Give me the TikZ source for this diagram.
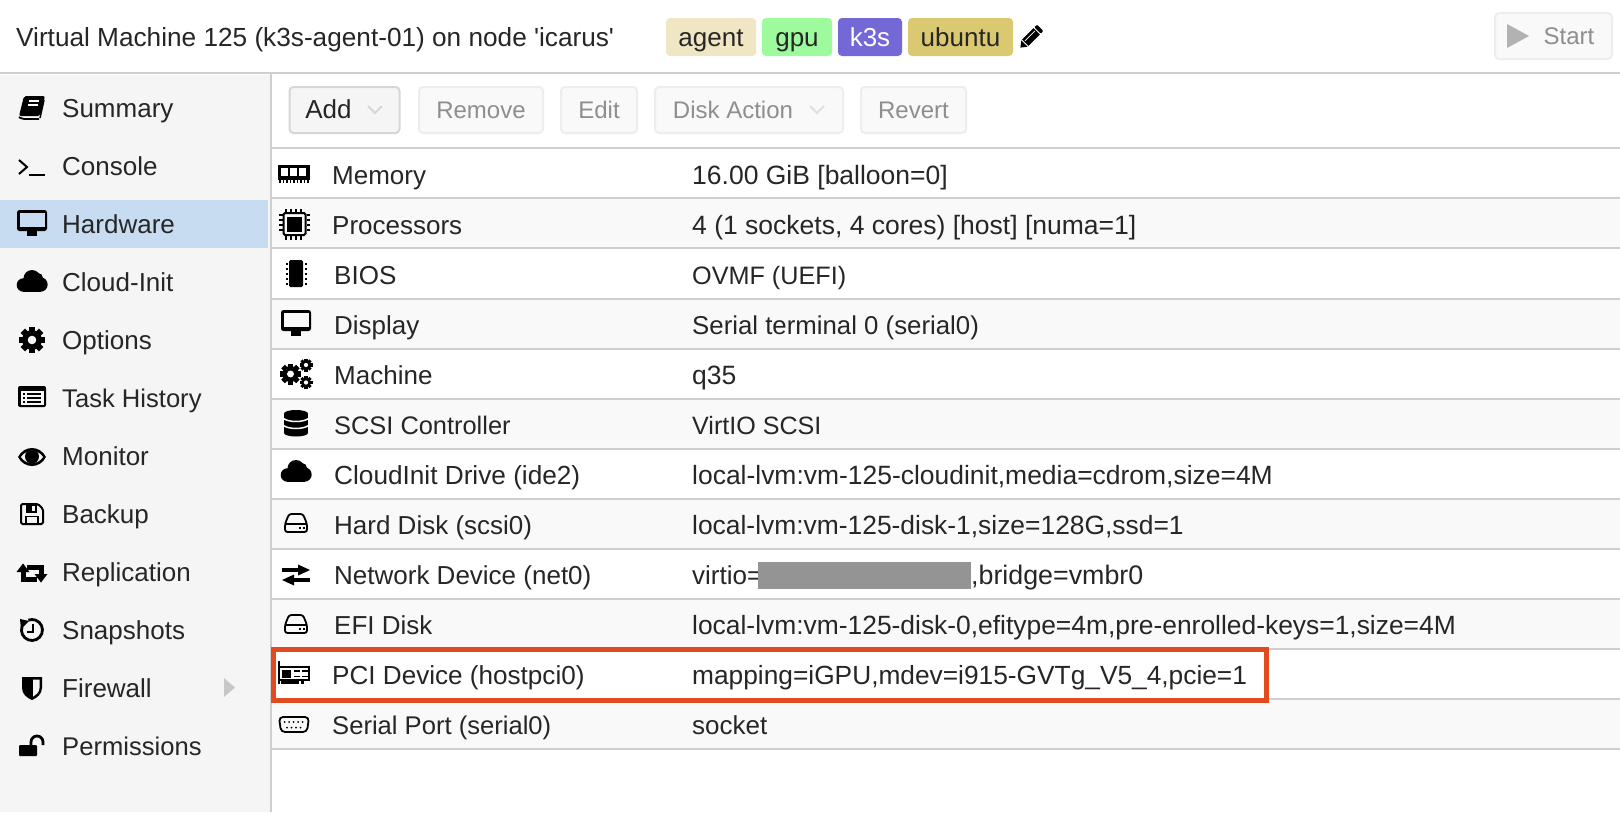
\documentclass[tikz,border=0pt]{standalone}
\usepackage{fontspec}
\newfontfamily\uif{Liberation Sans}
\definecolor{ink}{HTML}{262626}
\definecolor{off}{HTML}{8E8E8E}
\definecolor{rule}{HTML}{CFCFCF}
\definecolor{btnrule}{HTML}{D6D6D6}
\definecolor{sidebg}{HTML}{F5F5F5}
\definecolor{rowalt}{HTML}{F9F9F9}
\definecolor{sel}{HTML}{C7DBF1}
\definecolor{hl}{HTML}{E24A20}
\tikzset{
  ui/.style={font=\uif\fontsize{26}{30}\selectfont,text=ink,inner sep=0pt},
  fs/.style={font=\uif\fontsize{#1}{30}\selectfont},
  lefttext/.style={ui,anchor=base west},
  btnbase/.style={ui,draw,line width=2pt,rounded corners=4pt,minimum height=46pt,text height=22pt,text depth=6pt},
  addbtn/.style={btnbase,draw=btnrule,fill=sidebg},
  offbtn/.style={btnbase,draw=black!7,fill=rowalt,text=off,fs=24},
  tagbox/.style={ui,rounded corners=4pt,minimum height=38pt,text height=24pt,text depth=6pt},
  rowrule/.style={draw=rule,line width=1.7pt},
}
% icons; #1,#2 = centre
\newcommand\gearat[4]{% x y r bg
  \begin{scope}[shift={(#1,#2)}]
    \foreach \a in {0,45,...,315}{\fill[black,rotate=\a] (-#3*.24,0) rectangle (#3*.24,-#3);}
    \fill[black] (0,0) circle ({#3*.76});
    \fill[#4] (0,0) circle ({#3*.33});
  \end{scope}}
\newcommand\cloudat[3]{% x y bg
  \begin{scope}[shift={(#1,#2)}]
    \fill[black] (-8.5,4) circle (6.8);
    \fill[black] (8.5,3.5) circle (7.2);
    \fill[black] (0,-2.5) circle (8.5);
    \fill[black] (6,-3) circle (5);
    \fill[black] (-8.5,3) rectangle (8.5,10.8);
  \end{scope}}
\newcommand\screenat[3]{% x y inner
  \begin{scope}[shift={(#1,#2)}]
    \fill[black,rounded corners=2.5pt] (-15,-13) rectangle (15,8);
    \fill[#3] (-12.5,-10.5) rectangle (12.5,3.5);
    \fill[black] (-5,8) rectangle (5,13);
  \end{scope}}
\newcommand\diskat[2]{%
  \begin{scope}[shift={(#1,#2)}]
    \draw[black,line width=1.8pt,rounded corners=2.5pt] (-11,1) -- (-7,-9) -- (7,-9) -- (11,1) -- (11,9) -- (-11,9) -- cycle;
    \draw[black,line width=1.6pt] (-11,1) -- (11,1);
    \fill[black] (3,4) rectangle (5,6); \fill[black] (7,4) rectangle (9,6);
  \end{scope}}
\begin{document}
\begin{tikzpicture}[x=1pt,y=-1pt]
\useasboundingbox (0,0) rectangle (1620,812);
\fill[white] (0,0) rectangle (1620,812);
% sidebar
\fill[sidebg] (0,75) rectangle (271,812);
\fill[sel] (0,200) rectangle (268,248);
\draw[rowrule] (271,73) -- (271,812);
\draw[rowrule] (0,73) -- (1620,73);
% title and tags
\node[lefttext,fs=26.2] (title) at (16,46) {Virtual Machine 125 (k3s-agent-01) on node 'icarus'};
\node[tagbox,minimum width=90pt,fill={rgb,255:red,240;green,230;blue,195}] (tagagent) at (711,37) {agent};
\node[tagbox,minimum width=70pt,fill={rgb,255:red,157;green,250;blue,157}] (taggpu) at (797,37) {gpu};
\node[tagbox,minimum width=64pt,fill={rgb,255:red,116;green,103;blue,214},text=white] (tagks) at (870,37) {k3s};
\node[tagbox,minimum width=105pt,fill={rgb,255:red,219;green,201;blue,113}] (tagub) at (960.5,37) {ubuntu};
% pencil
\begin{scope}[shift={(1031,37)},rotate=-45]
  \fill[black] (-4.5,-8) rectangle (4.5,8);
  \fill[black,rounded corners=1pt] (-4.5,-13) rectangle (4.5,-9.3);
  \fill[black] (-4.5,9.2) -- (4.5,9.2) -- (0,15) -- cycle;
  \draw[white,line width=.8pt] (-1.5,-7) -- (-1.5,7);
\end{scope}
% start button
\node[offbtn,minimum width=117pt,anchor=west] (start) at (1494,36) {\hspace*{31pt}Start};
\fill[black!30] (1507,24) -- (1529,36) -- (1507,48) -- cycle;
% toolbar
\node[addbtn,minimum width=110pt,anchor=west] (add) at (288.5,110) {Add\hspace*{32pt}};
\draw[btnrule,line width=2pt] (368,106) -- (375,113) -- (382,106);
\node[offbtn,minimum width=124pt,anchor=west] (remove) at (418,110) {Remove};
\node[offbtn,minimum width=76pt,anchor=west] (edit) at (560,110) {Edit};
\node[offbtn,minimum width=188pt,anchor=west] (diskact) at (654,110) {Disk Action\hspace*{32pt}};
\draw[black!12,line width=2pt] (810,106) -- (817,113) -- (824,106);
\node[offbtn,minimum width=105pt,anchor=west] (revert) at (860,110) {Revert};
% row backgrounds
\foreach \t in {198,299,399,499,599,699}{\fill[rowalt] (272,\t) rectangle (1620,\t+50);}
\foreach \t in {148,198,248,299,349,399,449,499,549,599,649,699,749}{\draw[rowrule] (272,\t) -- (1620,\t);}
% sidebar labels
\node[lefttext] (sSummary) at (62,117) {Summary};
\node[lefttext] (sConsole) at (62,175) {Console};
\node[lefttext] (sHardware) at (62,233) {Hardware};
\node[lefttext] (sCloud) at (62,291) {Cloud-Init};
\node[lefttext] (sOptions) at (62,349) {Options};
\node[lefttext,fs=25.6] (sTask) at (62,407) {Task History};
\node[lefttext] (sMonitor) at (62,465) {Monitor};
\node[lefttext] (sBackup) at (62,523) {Backup};
\node[lefttext] (sRepl) at (62,581) {Replication};
\node[lefttext] (sSnap) at (62,639) {Snapshots};
\node[lefttext] (sFire) at (62,697) {Firewall};
\node[lefttext,fs=25.6] (sPerm) at (62,755) {Permissions};
% table labels
\node[lefttext] (kMem) at (332,184) {Memory};
\node[lefttext,fs=26.5] (vMem) at (692,184) {16.00 GiB [balloon=0]};
\node[lefttext] (kCpu) at (332,234) {Processors};
\node[lefttext,fs=26.5] (vCpu) at (692,234) {4 (1 sockets, 4 cores) [host] [numa=1]};
\node[lefttext] (kBios) at (334,284) {BIOS};
\node[lefttext,fs=25.2] (vBios) at (692,284) {OVMF (UEFI)};
\node[lefttext] (kDisp) at (334,334) {Display};
\node[lefttext,fs=25.8] (vDisp) at (692,334) {Serial terminal 0 (serial0)};
\node[lefttext] (kMach) at (334,384) {Machine};
\node[lefttext,fs=26.5] (vMach) at (692,384) {q35};
\node[lefttext,fs=25.4] (kScsi) at (334,434) {SCSI Controller};
\node[lefttext,fs=25.1] (vScsi) at (692,434) {VirtIO SCSI};
\node[lefttext,fs=26.2] (kCi) at (334,484) {CloudInit Drive (ide2)};
\node[lefttext,fs=26.45] (vCi) at (692,484) {local-lvm:vm-125-cloudinit,media=cdrom,size=4M};
\node[lefttext] (kHd) at (334,534) {Hard Disk (scsi0)};
\node[lefttext,fs=26.4] (vHd) at (692,534) {local-lvm:vm-125-disk-1,size=128G,ssd=1};
\node[lefttext] (kNet) at (334,584) {Network Device (net0)};
\node[lefttext] (vNet) at (692,584) {virtio=};
\fill[black!42] (757.5,561.5) rectangle (971,588.5);
\node[lefttext,fs=26.8] (vNetb) at (971,584) {,bridge=vmbr0};
\node[lefttext] (kEfi) at (334,634) {EFI Disk};
\node[lefttext,fs=26.4] (vEfi) at (692,634) {local-lvm:vm-125-disk-0,efitype=4m,pre-enrolled-keys=1,size=4M};
\node[lefttext,fs=26.1] (kPci) at (332,684) {PCI Device (hostpci0)};
\node[lefttext,fs=26.3] (vPci) at (692,684) {mapping=iGPU,mdev=i915-GVTg\_V5\_4,pcie=1};
\node[lefttext,fs=25.6] (kSer) at (332,734) {Serial Port (serial0)};
\node[lefttext] (vSer) at (692,734) {socket};
% highlight
\draw[hl,line width=5pt] (273.8,649.4) rectangle (1266.5,700.8);
% --- sidebar icons ---
% book
\begin{scope}[shift={(32,108)}]
  \fill[black,rounded corners=2pt] (-8,-12) -- (13,-12) -- (8,8) -- (-13,8) -- cycle;
  \draw[black,line width=1.8pt,rounded corners=2pt] (7,11) -- (-10,11) -- (-13,9);
  \draw[black,line width=1.5pt] (12,-8) -- (8,10);
  \draw[white,line width=1.5pt] (-3,-7) -- (7,-7) (-4,-3) -- (6,-3);
\end{scope}
% console
\draw[black,line width=2pt] (19,160) -- (27,167) -- (19,174);
\draw[black,line width=2pt] (29,175) -- (45,175);
% hardware
\screenat{32}{223}{sel}
\cloudat{32}{281}{sidebg}
\gearat{32}{340}{13}{sidebg}
% task history
\fill[black,rounded corners=2pt] (18,386) rectangle (46,407);
\fill[sidebg] (20.5,391) rectangle (43.5,404.5);
\foreach \y in {393,397,401}{\fill[black] (23,\y) rectangle (25,\y+1.8); \fill[black] (27,\y) rectangle (41,\y+1.8);}
% eye
\fill[black] (18,457) .. controls (24,445) and (40,445) .. (46,457) .. controls (40,469) and (24,469) .. (18,457) -- cycle;
\fill[sidebg] (21,457) .. controls (26,449) and (38,449) .. (43,457) .. controls (38,465) and (26,465) .. (21,457) -- cycle;
\fill[black] (32,456.5) circle (7);
% floppy
\draw[black,line width=2pt,rounded corners=1.5pt] (21,504) -- (38,504) -- (43,509) -- (43,524) -- (21,524) -- cycle;
\fill[black] (26,504) rectangle (37,513);
\fill[sidebg] (32,505.5) rectangle (35,511);
\draw[black,line width=1.6pt] (26,524) -- (26,516.5) -- (38,516.5) -- (38,524);
% replication
\draw[black,line width=5pt] (23,570) -- (23,579) -- (37,579);
\fill[black] (16.5,572) -- (23,563.5) -- (29.5,572) -- cycle;
\draw[black,line width=5pt] (41,576) -- (41,567) -- (27,567);
\fill[black] (34.5,574) -- (47.5,574) -- (41,582.5) -- cycle;
% snapshots
\draw[black,line width=2.8pt] (22.1,626.4) arc[start angle=200,end angle=-110,radius=10.5];
\fill[black] (20,619) -- (29,621) -- (21,629) -- cycle;
\draw[black,line width=2pt] (32.5,624) -- (32.5,631.5) -- (27,631.5);
% shield
\fill[black] (22,677) -- (42,677) -- (42,688) .. controls (42,694) and (37,698) .. (32,700) .. controls (27,698) and (22,694) .. (22,688) -- cycle;
\fill[sidebg] (33,679.5) -- (39.5,679.5) -- (39.5,688) .. controls (39.5,692) and (36,695) .. (33,696.5) -- cycle;
% firewall arrow
\fill[black!22] (224,678) -- (235,687.5) -- (224,697) -- cycle;
% unlock
\fill[black,rounded corners=1pt] (19,745) rectangle (37,756);
\draw[black,line width=2.8pt] (31,745) -- (31,742) arc[start angle=180,end angle=360,radius=6] -- (43,745);
% --- table icons ---
% memory
\fill[black] (278,165) rectangle (310,180);
\foreach \x in {281,290,299}{\fill[white] (\x,168) rectangle (\x+7,176);}
\foreach \x in {279,282.5,...,309}{\fill[black] (\x,180) rectangle (\x+1.6,183);}
% processor
\begin{scope}[shift={(294.5,224)}]
  \draw[black,line width=2pt,rounded corners=1.5pt] (-11,-11) rectangle (11,11);
  \fill[black] (-7.5,-7.5) rectangle (7.5,7.5);
  \foreach \p in {-10,-5,0,5}{
    \fill[black] (\p,-15.5) rectangle (\p+2.2,-12);
    \fill[black] (\p,12) rectangle (\p+2.2,15.5);
    \fill[black] (-15.5,\p) rectangle (-12,\p+2.2);
    \fill[black] (12,\p) rectangle (15.5,\p+2.2);}
\end{scope}
% bios chip
\fill[black,rounded corners=1.5pt] (289,260) rectangle (303,287);
\foreach \y in {263,268,273,278,283}{\fill[black] (285.5,\y) rectangle (287.5,\y+1.5); \fill[black] (304.5,\y) rectangle (306.5,\y+1.5);}
\screenat{296}{323}{rowalt}
\gearat{290.5}{374}{10.5}{white}
\gearat{306}{365}{6.5}{white}
\gearat{306}{382.5}{6.5}{white}
% db
\begin{scope}[shift={(296,423.5)}]
  \fill[black] (0,-10) ellipse (12 and 3.5);
  \fill[black] (-12,-10) rectangle (12,9.5);
  \fill[black] (0,9.5) ellipse (12 and 3.5);
  \draw[rowalt,line width=1.5pt] (-12.5,-5) .. controls (-7,-1) and (7,-1) .. (12.5,-5);
  \draw[rowalt,line width=1.5pt] (-12.5,2) .. controls (-7,6) and (7,6) .. (12.5,2);
\end{scope}
\cloudat{296}{471}{white}
\diskat{296}{523}
% network
\fill[black] (282,568) rectangle (300,572);
\fill[black] (298,564.5) -- (310,570) -- (298,575.5) -- cycle;
\fill[black] (292,578) rectangle (310,582);
\fill[black] (294,574.5) -- (282,580) -- (294,585.5) -- cycle;
\diskat{296}{624}
% pci
\begin{scope}
  \fill[black] (278,661) rectangle (280,684);
  \draw[black,line width=2pt] (279,667) rectangle (309,680);
  \fill[black] (282,670) rectangle (291,678);
  \foreach \x in {294,302}{\fill[black] (\x,670) rectangle (\x+6,671.8); \fill[black] (\x,675.5) rectangle (\x+6,677.3);}
  \fill[black] (281,681) rectangle (299,684);
  \fill[black] (301,681) rectangle (304,684);
\end{scope}
% serial
\draw[black,line width=1.8pt,rounded corners=4pt] (279,717) -- (309,717) -- (307,732) -- (281,732) -- cycle;
\foreach \x in {284,288.5,293,297.5,302}{\fill[black] (\x+.7,722) circle (1);}
\foreach \x in {287,291.5,296,300.5}{\fill[black] (\x,727.5) circle (1);}
\end{tikzpicture}
\end{document}
